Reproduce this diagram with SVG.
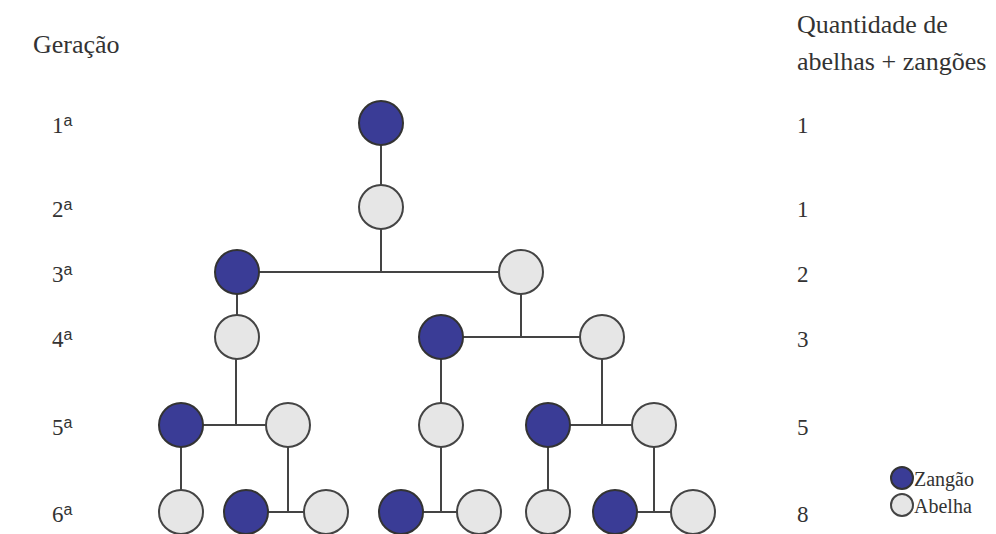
<svg xmlns="http://www.w3.org/2000/svg" width="996" height="534" viewBox="0 0 996 534">
<style>
.z{fill:#3a3c96;stroke:#333;stroke-width:2}
.a{fill:#e6e6e6;stroke:#444;stroke-width:2}
.t{font-family:'Liberation Serif','DejaVu Serif',serif;fill:#333}
.s{font-family:'Liberation Sans','DejaVu Sans',sans-serif}
#connectors line{stroke:#444;stroke-width:2}
</style>
<rect width="996" height="534" fill="#fff"/>
<text class="t" x="33" y="53" font-size="26">Geração</text>
<text class="t" x="797" y="33" font-size="26">Quantidade de</text>
<text class="t" x="797" y="70" font-size="26">abelhas + zangões</text>
<g class="t" font-size="23">
<text x="52" y="133">1<tspan class="s" font-size="16" dy="-7">a</tspan></text>
<text x="52" y="217">2<tspan class="s" font-size="16" dy="-7">a</tspan></text>
<text x="52" y="282">3<tspan class="s" font-size="16" dy="-7">a</tspan></text>
<text x="52" y="347">4<tspan class="s" font-size="16" dy="-7">a</tspan></text>
<text x="52" y="435">5<tspan class="s" font-size="16" dy="-7">a</tspan></text>
<text x="52" y="522">6<tspan class="s" font-size="16" dy="-7">a</tspan></text>
<text x="797" y="133">1</text>
<text x="797" y="217">1</text>
<text x="797" y="282">2</text>
<text x="797" y="347">3</text>
<text x="797" y="435">5</text>
<text x="797" y="522">8</text>
</g>
<g id="connectors">
<line x1="381" y1="145" x2="381" y2="185"/>
<line x1="381" y1="229" x2="381" y2="272"/>
<line x1="259" y1="272" x2="499" y2="272"/>
<line x1="237" y1="294" x2="237" y2="315"/>
<line x1="521" y1="294" x2="521" y2="337"/>
<line x1="463" y1="337" x2="580" y2="337"/>
<line x1="236" y1="359" x2="236" y2="425"/>
<line x1="203" y1="425" x2="266" y2="425"/>
<line x1="441" y1="359" x2="441" y2="403"/>
<line x1="602" y1="359" x2="602" y2="425"/>
<line x1="570" y1="425" x2="632" y2="425"/>
<line x1="181" y1="447" x2="181" y2="490"/>
<line x1="288" y1="447" x2="288" y2="512"/>
<line x1="268" y1="512" x2="304" y2="512"/>
<line x1="441" y1="447" x2="441" y2="512"/>
<line x1="423" y1="512" x2="457" y2="512"/>
<line x1="548" y1="447" x2="548" y2="490"/>
<line x1="654" y1="447" x2="654" y2="512"/>
<line x1="637" y1="512" x2="671" y2="512"/>
</g>
<g id="g1-z"><circle class="z" cx="381" cy="123" r="22"/></g>
<g id="g2-a"><circle class="a" cx="381" cy="207" r="22"/></g>
<g id="g3-z"><circle class="z" cx="237" cy="272" r="22"/></g>
<g id="g3-a"><circle class="a" cx="521" cy="272" r="22"/></g>
<g id="g4-a1"><circle class="a" cx="237" cy="337" r="22"/></g>
<g id="g4-z"><circle class="z" cx="441" cy="337" r="22"/></g>
<g id="g4-a2"><circle class="a" cx="602" cy="337" r="22"/></g>
<g id="g5-z1"><circle class="z" cx="181" cy="425" r="22"/></g>
<g id="g5-a1"><circle class="a" cx="288" cy="425" r="22"/></g>
<g id="g5-a2"><circle class="a" cx="441" cy="425" r="22"/></g>
<g id="g5-z2"><circle class="z" cx="548" cy="425" r="22"/></g>
<g id="g5-a3"><circle class="a" cx="654" cy="425" r="22"/></g>
<g id="g6-a1"><circle class="a" cx="181" cy="512" r="22"/></g>
<g id="g6-z1"><circle class="z" cx="246" cy="512" r="22"/></g>
<g id="g6-a2"><circle class="a" cx="326" cy="512" r="22"/></g>
<g id="g6-z2"><circle class="z" cx="401" cy="512" r="22"/></g>
<g id="g6-a3"><circle class="a" cx="479" cy="512" r="22"/></g>
<g id="g6-a4"><circle class="a" cx="548" cy="512" r="22"/></g>
<g id="g6-z3"><circle class="z" cx="615" cy="512" r="22"/></g>
<g id="g6-a5"><circle class="a" cx="693" cy="512" r="22"/></g>
<g id="legend">
<circle class="z" cx="902" cy="478" r="11"/>
<text class="t" x="914" y="486" font-size="20">Zangão</text>
<circle class="a" cx="902" cy="505" r="11"/>
<text class="t" x="914" y="513" font-size="20">Abelha</text>
</g>
</svg>
